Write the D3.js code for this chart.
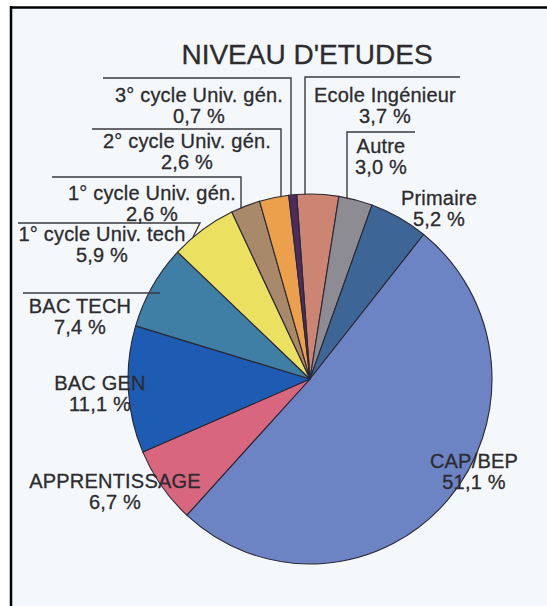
<!DOCTYPE html>
<html>
<head>
<meta charset="utf-8">
<script src="https://cdn.jsdelivr.net/npm/d3@7/dist/d3.min.js"></script>
<style>
  html, body { margin: 0; padding: 0; background: #ffffff; }
  svg { display: block; }
  text { font-family: "Liberation Sans", Arial, Helvetica, sans-serif; fill: #2b2b30; stroke: #2b2b30; stroke-width: 0.3px; }
</style>
</head>
<body>
<svg id="chart" width="547" height="606"></svg>
<script>
// ---- data ----
const title = "NIVEAU D'ETUDES";
const categories = [
  "Ecole Ingénieur", "Autre", "Primaire", "CAP/BEP", "APPRENTISSAGE",
  "BAC GEN", "BAC TECH", "1° cycle Univ. tech", "1° cycle Univ. gén.",
  "2° cycle Univ. gén.", "3° cycle Univ. gén."
];
const values = [3.7, 3.0, 5.2, 51.1, 6.7, 11.1, 7.4, 5.9, 2.6, 2.6, 0.7];
const colors = [
  "#cc8572", "#8d8c93", "#3d6596", "#6c84c3", "#d9667f",
  "#1e5cb3", "#3f7ea5", "#ebe060", "#a8896a", "#eda04c", "#4b2c5c"
];

// ---- layout ----
const W = 547, H = 606;
const cx = 310, cy = 379, rx = 182, ry = 185;
const startDeg = -4.2;

const labelLayout = {
  "Ecole Ingénieur":      {x: 385, y: 102},
  "Autre":                {x: 381, y: 153},
  "Primaire":             {x: 439, y: 205},
  "CAP/BEP":              {x: 474, y: 468},
  "APPRENTISSAGE":        {x: 115, y: 488},
  "BAC GEN":              {x: 100, y: 390},
  "BAC TECH":             {x: 80,  y: 313},
  "1° cycle Univ. tech":  {x: 102, y: 241},
  "1° cycle Univ. gén.":  {x: 152, y: 200},
  "2° cycle Univ. gén.":  {x: 187, y: 148},
  "3° cycle Univ. gén.":  {x: 199, y: 102}
};
const leaders = {
  "3° cycle Univ. gén.":  {hy: 78,  x0: 103, x1: 291, down: true},
  "2° cycle Univ. gén.":  {hy: 129, x0: 92,  x1: 281, down: true},
  "1° cycle Univ. gén.":  {hy: 177, x0: 52,  x1: 241, down: true},
  "1° cycle Univ. tech":  {hy: 223, x0: 18,  x1: 200, end: [193, 237]},
  "BAC TECH":             {hy: 293, x0: 23,  x1: 160},
  "Ecole Ingénieur":      {hy: 77,  x0: 460, x1: 305, down: true},
  "Autre":                {hy: 132, x0: 415, x1: 347, down: true}
};

const fmt = v => d3.format(".1f")(v).replace(".", ",") + " %";

const svg = d3.select("#chart");

// frame / background
svg.append("rect").attr("x", 11).attr("y", 8).attr("width", W - 11).attr("height", H - 8)
  .attr("fill", "#f5f8fb");
svg.append("line").attr("x1", 10).attr("x2", W).attr("y1", 7.5).attr("y2", 7.5)
  .attr("stroke", "#000").attr("stroke-width", 2.5);
svg.append("line").attr("x1", 11).attr("x2", 11).attr("y1", 6).attr("y2", H)
  .attr("stroke", "#000").attr("stroke-width", 2.5);

// title
svg.append("text").attr("x", 307).attr("y", 64).attr("text-anchor", "middle")
  .style("font-size", "28px").text(title);

// pie
const data = categories.map((c, i) => ({cat: c, value: values[i], color: colors[i]}));
const start = startDeg * Math.PI / 180;
const pie = d3.pie().sort(null).value(d => d.value).startAngle(start).endAngle(start + 2 * Math.PI);
const arc = d3.arc().innerRadius(0).outerRadius(rx);

const g = svg.append("g").attr("transform", `translate(${cx},${cy}) scale(1,${ry / rx})`);
g.selectAll("path").data(pie(data)).join("path")
  .attr("d", arc)
  .attr("fill", d => d.data.color)
  .attr("stroke", "#2a2835")
  .attr("stroke-width", 1.1)
  .attr("vector-effect", "non-scaling-stroke");

const edgeY = x => cy - ry * Math.sqrt(Math.max(0, 1 - ((x - cx) / rx) ** 2));

// leaders
const lineGen = d3.line();
Object.entries(leaders).forEach(([cat, L]) => {
  const pts = [[L.x0, L.hy], [L.x1, L.hy]];
  if (L.down) pts.push([L.x1, edgeY(L.x1) + 1]);
  if (L.end) pts.push(L.end);
  svg.append("path").attr("d", lineGen(pts))
    .attr("fill", "none").attr("stroke", "#3a3a40").attr("stroke-width", 1.4);
});

// labels
data.forEach(d => {
  const p = labelLayout[d.cat];
  const t = svg.append("text").attr("text-anchor", "middle")
    .style("font-size", "20px").style("letter-spacing", "0.2px");
  t.append("tspan").attr("x", p.x).attr("y", p.y).text(d.cat);
  t.append("tspan").attr("x", p.x).attr("y", p.y + 21).text(fmt(d.value));
});
</script>
</body>
</html>
